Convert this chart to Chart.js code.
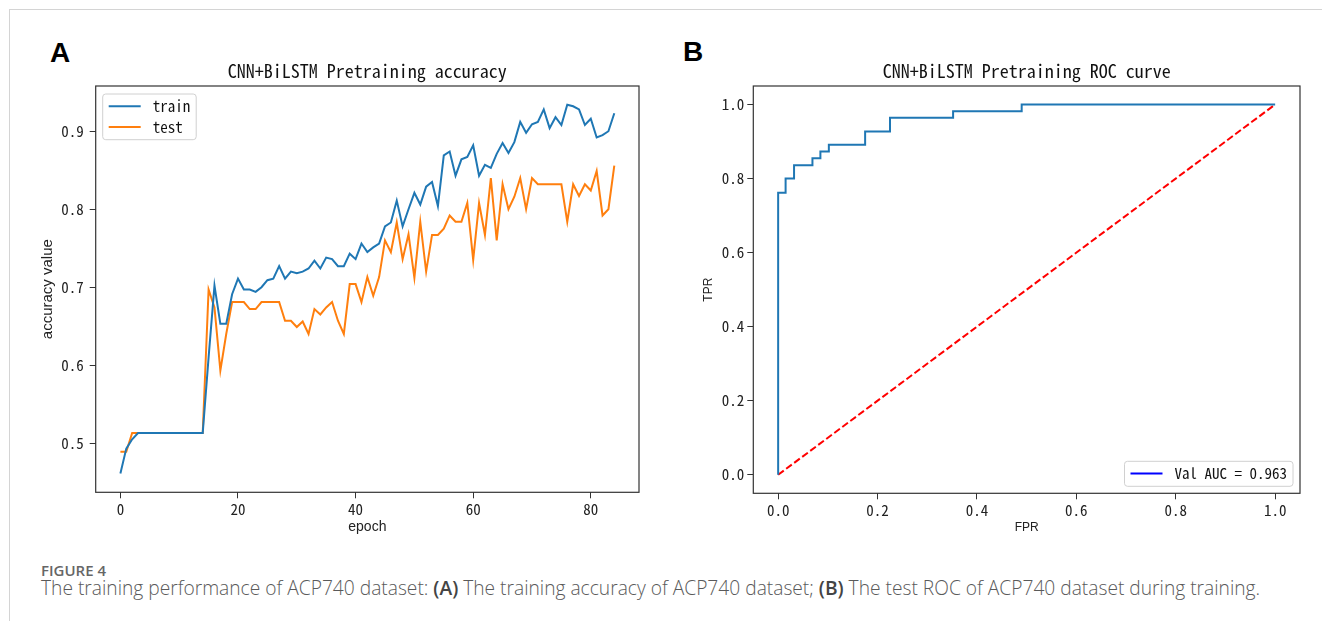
<!DOCTYPE html>
<html>
<head>
<meta charset="utf-8">
<script src="https://cdn.jsdelivr.net/npm/chart.js@4.4.1/dist/chart.umd.min.js"></script>
<style>
  body { margin: 0; background: #fff; }
  #page { position: relative; width: 1322px; height: 621px; overflow: hidden; }
  #frame { position: absolute; left: 9px; top: 9px; width: 1320px; height: 620px;
           border-top: 1px solid #d4d4d4; border-left: 1px solid #d4d4d4; }
  .panel { position: absolute; font: bold 28px "Liberation Sans", Arial, sans-serif; line-height: 28px; color: #000; }
  canvas { position: absolute; }
  #figno { position: absolute; left: 41px; top: 560px; font: 600 15px "Open Sans", sans-serif; line-height: 20px; color: #666; }
  #cap { position: absolute; left: 41px; top: 576px; font: 300 19.2px "Open Sans", sans-serif; line-height: 24px; color: #5a5a5a; white-space: nowrap; }
  #cap b { color: #444; font-weight: 600; }
</style>
</head>
<body>
<div id="page">
  <div id="frame"></div>
  <div class="panel" style="left:50px;top:39px">A</div>
  <div class="panel" style="left:683px;top:38px">B</div>
  <canvas id="accChart" width="660" height="510" style="left:0;top:50px"></canvas>
  <canvas id="rocChart" width="662" height="510" style="left:660px;top:50px"></canvas>
  <div id="figno">FIGURE 4</div>
  <div id="cap">The training performance of ACP740 dataset: <b>(A)</b> The training accuracy of ACP740 dataset; <b>(B)</b> The test ROC of ACP740 dataset during training.</div>
</div>
<script>
// panel A: accuracy per epoch
const epochs = [0, 1, 2, 3, 4, 5, 6, 7, 8, 9, 10, 11, 12, 13, 14, 15, 16, 17, 18, 19,
  20, 21, 22, 23, 24, 25, 26, 27, 28, 29, 30, 31, 32, 33, 34, 35, 36, 37, 38, 39,
  40, 41, 42, 43, 44, 45, 46, 47, 48, 49, 50, 51, 52, 53, 54, 55, 56, 57, 58, 59,
  60, 61, 62, 63, 64, 65, 66, 67, 68, 69, 70, 71, 72, 73, 74, 75, 76, 77, 78, 79,
  80, 81, 82, 83, 84];
const trainAcc = [0.461, 0.493, 0.505, 0.513, 0.513, 0.513, 0.513, 0.513, 0.513, 0.513,
  0.513, 0.513, 0.513, 0.513, 0.513, 0.610, 0.702, 0.653, 0.653, 0.691,
  0.711, 0.697, 0.697, 0.694, 0.700, 0.709, 0.711, 0.727, 0.711, 0.720,
  0.718, 0.720, 0.724, 0.734, 0.724, 0.738, 0.736, 0.727, 0.727, 0.743,
  0.736, 0.756, 0.745, 0.751, 0.756, 0.778, 0.783, 0.811, 0.778, 0.800,
  0.821, 0.806, 0.829, 0.835, 0.804, 0.869, 0.874, 0.843, 0.864, 0.867,
  0.882, 0.843, 0.857, 0.853, 0.871, 0.885, 0.872, 0.886, 0.912, 0.898,
  0.909, 0.912, 0.928, 0.904, 0.918, 0.908, 0.934, 0.932, 0.928, 0.908,
  0.916, 0.892, 0.895, 0.900, 0.923];
const testAcc = [0.489, 0.489, 0.513, 0.513, 0.513, 0.513, 0.513, 0.513, 0.513, 0.513,
  0.513, 0.513, 0.513, 0.513, 0.513, 0.697, 0.674, 0.593, 0.640, 0.681,
  0.681, 0.681, 0.672, 0.672, 0.681, 0.681, 0.681, 0.681, 0.657, 0.657,
  0.649, 0.656, 0.640, 0.672, 0.665, 0.674, 0.681, 0.657, 0.640, 0.704,
  0.704, 0.681, 0.713, 0.689, 0.713, 0.760, 0.745, 0.783, 0.736, 0.768,
  0.712, 0.784, 0.720, 0.767, 0.767, 0.775, 0.792, 0.784, 0.784, 0.808,
  0.735, 0.808, 0.767, 0.840, 0.760, 0.832, 0.800, 0.816, 0.840, 0.800,
  0.840, 0.832, 0.832, 0.832, 0.832, 0.832, 0.784, 0.832, 0.817, 0.832,
  0.824, 0.849, 0.792, 0.800, 0.856];
const epochTicks = [0, 20, 40, 60, 80];
const accTicks = [0.5, 0.6, 0.7, 0.8, 0.9];

// panel B: ROC curve
const fpr = [0, 0, 0.015, 0.015, 0.032, 0.032, 0.069, 0.069, 0.085, 0.085, 0.102, 0.102,
  0.175, 0.175, 0.225, 0.225, 0.352, 0.352, 0.49, 0.49, 1.0];
const tpr = [0, 0.762, 0.762, 0.800, 0.800, 0.836, 0.836, 0.855, 0.855, 0.873, 0.873, 0.891,
  0.891, 0.927, 0.927, 0.964, 0.964, 0.982, 0.982, 1.0, 1.0];
const diagX = [0, 1];
const diagY = [0, 1];
const rateTicks = [0, 0.2, 0.4, 0.6, 0.8, 1.0];
const aucLabel = 'Val AUC = 0.963';

const MONO = '"Noto Sans Mono CJK SC", "Noto Sans CJK SC", "DejaVu Sans Mono", monospace';
const SANS = '"Liberation Sans", Arial, sans-serif';

// spines all round + matplotlib-style legend box
const framePlugin = {
  id: 'frame',
  afterDraw(chart, args, opts) {
    const { ctx, chartArea: a } = chart;
    ctx.save();
    ctx.strokeStyle = '#333';
    ctx.lineWidth = 1.2;
    ctx.strokeRect(a.left, a.top, a.right - a.left, a.bottom - a.top);

    const items = opts.items || [];
    ctx.font = '15px ' + MONO;
    const tw = Math.max(...items.map(it => ctx.measureText(it.text).width));
    const w = 6 + 32 + 12 + tw + 6;
    const h = 25 + (items.length - 1) * 20.7;
    let x, y;
    if (opts.corner === 'tl') { x = a.left + 7; y = a.top + 8; }
    else { x = a.right - 7 - w; y = a.bottom - 7 - h; }
    ctx.fillStyle = 'rgba(255,255,255,0.85)';
    ctx.strokeStyle = '#d0d0d0';
    ctx.lineWidth = 1;
    ctx.beginPath();
    ctx.roundRect(x, y, w, h, 3);
    ctx.fill();
    ctx.stroke();
    items.forEach((it, i) => {
      const cy = y + 12.3 + i * 20.7;
      ctx.strokeStyle = it.color;
      ctx.lineWidth = 2;
      ctx.beginPath();
      ctx.moveTo(x + 6, cy);
      ctx.lineTo(x + 38, cy);
      ctx.stroke();
      ctx.fillStyle = '#111';
      ctx.textBaseline = 'middle';
      ctx.textAlign = 'left';
      ctx.fillText(it.text, x + 50, cy);
    });
    ctx.restore();
  }
};

function tickGrid() {
  return { display: true, drawOnChartArea: false, drawTicks: true, tickLength: 6, color: '#333', lineWidth: 1 };
}

new Chart(document.getElementById('accChart'), {
  type: 'line',
  data: {
    datasets: [
      { label: 'train', data: epochs.map((e, i) => ({ x: e, y: trainAcc[i] })),
        borderColor: '#1f77b4', borderWidth: 2, pointRadius: 0, tension: 0 },
      { label: 'test', data: epochs.map((e, i) => ({ x: e, y: testAcc[i] })),
        borderColor: '#ff7f0e', borderWidth: 2, pointRadius: 0, tension: 0 }
    ]
  },
  options: {
    responsive: false,
    animation: false,
    devicePixelRatio: 1,
    layout: { padding: { left: 0, right: 21, top: 0, bottom: 0 } },
    plugins: {
      legend: { display: false },
      tooltip: { enabled: false },
      title: { display: true, text: 'CNN+BiLSTM Pretraining accuracy', fullSize: false, color: '#111',
               font: { family: MONO, size: 18, weight: 'normal' }, padding: { top: 10, bottom: 4.4 } },
      frame: { corner: 'tl', items: [{ text: 'train', color: '#1f77b4' }, { text: 'test', color: '#ff7f0e' }] }
    },
    scales: {
      x: {
        type: 'linear', min: -4.2, max: 88.2,
        afterBuildTicks: s => { s.ticks = epochTicks.map(v => ({ value: v })); },
        afterFit: s => { s.height = 67.7; },
        grid: tickGrid(),
        border: { display: false },
        ticks: { color: '#222', font: { family: MONO, size: 15 }, padding: 2, maxRotation: 0, callback: v => String(v) },
        title: { display: true, text: 'epoch', color: '#222', font: { family: SANS, size: 14 }, padding: { top: 0, bottom: 24.6 } }
      },
      y: {
        type: 'linear', min: 0.437, max: 0.958,
        afterBuildTicks: s => { s.ticks = accTicks.map(v => ({ value: v })); },
        afterFit: s => { s.width = 95.7; },
        grid: tickGrid(),
        border: { display: false },
        ticks: { color: '#222', font: { family: MONO, size: 15 }, padding: 6, callback: v => v.toFixed(1) },
        title: { display: true, text: 'accuracy value', color: '#222', font: { family: SANS, size: 15 }, padding: { top: 39, bottom: 0 } }
      }
    }
  },
  plugins: [framePlugin]
});

new Chart(document.getElementById('rocChart'), {
  type: 'line',
  data: {
    datasets: [
      { label: aucLabel, data: fpr.map((v, i) => ({ x: v, y: tpr[i] })),
        borderColor: '#1f77b4', borderWidth: 2, pointRadius: 0, tension: 0 },
      { label: 'chance', data: diagX.map((v, i) => ({ x: v, y: diagY[i] })),
        borderColor: '#ff0000', borderWidth: 2, borderDash: [7, 3], pointRadius: 0, tension: 0 }
    ]
  },
  options: {
    responsive: false,
    animation: false,
    devicePixelRatio: 1,
    layout: { padding: { left: 0, right: 22, top: 0, bottom: 0 } },
    plugins: {
      legend: { display: false },
      tooltip: { enabled: false },
      title: { display: true, text: 'CNN+BiLSTM Pretraining ROC curve', fullSize: false, color: '#111',
               font: { family: MONO, size: 18, weight: 'normal' }, padding: { top: 10, bottom: 4.4 } },
      frame: { corner: 'br', items: [{ text: aucLabel, color: '#0000ff' }] }
    },
    scales: {
      x: {
        type: 'linear', min: -0.05, max: 1.05,
        afterBuildTicks: s => { s.ticks = rateTicks.map(v => ({ value: v })); },
        afterFit: s => { s.height = 66.7; },
        grid: tickGrid(),
        border: { display: false },
        ticks: { color: '#222', font: { family: MONO, size: 15 }, padding: 2, maxRotation: 0, callback: v => v.toFixed(1) },
        title: { display: true, text: 'FPR', color: '#222', font: { family: SANS, size: 12 }, padding: { top: 0, bottom: 24.8 } }
      },
      y: {
        type: 'linear', min: -0.05, max: 1.05,
        afterBuildTicks: s => { s.ticks = rateTicks.map(v => ({ value: v })); },
        afterFit: s => { s.width = 93.3; },
        grid: tickGrid(),
        border: { display: false },
        ticks: { color: '#222', font: { family: MONO, size: 15 }, padding: 3, callback: v => v.toFixed(1) },
        title: { display: true, text: 'TPR', color: '#222', font: { family: SANS, size: 12 }, padding: { top: 41.8, bottom: 0 } }
      }
    }
  },
  plugins: [framePlugin]
});
</script>
</body>
</html>
